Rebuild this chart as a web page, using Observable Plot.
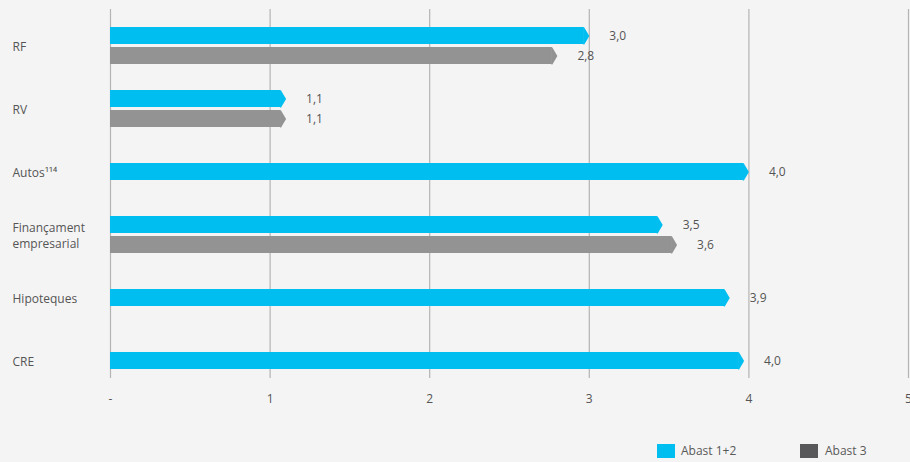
<!DOCTYPE html>
<html>
<head>
<meta charset="utf-8">
<script src="https://cdn.jsdelivr.net/npm/d3@7"></script>
<script src="https://cdn.jsdelivr.net/npm/@observablehq/plot@0.6"></script>
<style>
  html, body { margin: 0; padding: 0; background: #f4f4f4; overflow: hidden; }
  #wrap { position: relative; width: 910px; height: 462px; font-family: "Open Sans", sans-serif; }
  #legend { position: absolute; left: 0; top: 420px; width: 910px; height: 42px; font-size: 12px; color: #595959; }
  .sw { position: absolute; width: 18px; height: 14px; }
  .lt { position: absolute; line-height: 14px; }
</style>
</head>
<body>
<div id="wrap">
  <div id="chart"></div>
  <div id="legend"></div>
</div>
<script>
// ---- data ----
const categories = ["RF", "RV", "Autos", "Finançament empresarial", "Hipoteques", "CRE"];
const categoryLabels = ["RF", "RV", "Autos¹¹⁴", "Finançament\nempresarial", "Hipoteques", "CRE"];
const seriesNames = ["Abast 1+2", "Abast 3"];
const scope12 = [3.0, 1.1, 4.0, 3.46, 3.88, 3.97];
const scope3 = [2.8, 1.1, null, 3.55, null, null];
const labels12 = ["3,0", "1,1", "4,0", "3,5", "3,9", "4,0"];
const labels3 = ["2,8", "1,1", null, "3,6", null, null];
const xTicks = [0, 1, 2, 3, 4, 5];
const xTickLabels = ["-", "1", "2", "3", "4", "5"];

const barColors = {"Abast 1+2": "#00bef0", "Abast 3": "#939393"};
const legendColors = {"Abast 1+2": "#00bef0", "Abast 3": "#58585a"};

// rows: slot = top / bottom (paired) or single
const rows = [];
categories.forEach((c, i) => {
  if (scope3[i] != null) {
    rows.push({cat: c, series: seriesNames[0], value: scope12[i], label: labels12[i], slot: "top"});
    rows.push({cat: c, series: seriesNames[1], value: scope3[i], label: labels3[i], slot: "bottom"});
  } else {
    rows.push({cat: c, series: seriesNames[0], value: scope12[i], label: labels12[i], slot: "single"});
  }
});
const slotDy = {top: -10, single: 0, bottom: 10};

// arrow tip symbol
const tip = {
  draw(context) {
    context.moveTo(-6, -8.5);
    context.lineTo(-5, -8.5);
    context.lineTo(0, 0);
    context.lineTo(-5, 8.5);
    context.lineTo(-6, 8.5);
    context.closePath();
  }
};

const barMarks = [];
for (const slot of ["top", "single", "bottom"]) {
  const d = rows.filter(r => r.slot === slot);
  const dy = slotDy[slot];
  barMarks.push(
    Plot.barX(d, {x1: 0, x2: "value", y: "cat", fill: r => barColors[r.series], insetRight: 5, dy}),
    Plot.dot(d, {x: "value", y: "cat", symbol: tip, fill: r => barColors[r.series], stroke: "none", dy}),
    Plot.text(d, {x: "value", y: "cat", text: "label", textAnchor: "start", dx: 20, dy, fill: "#555555", fontSize: 12})
  );
}

const labelMap = new Map(categories.map((c, i) => [c, categoryLabels[i]]));
const tickMap = new Map(xTicks.map((t, i) => [t, xTickLabels[i]]));

const chart = Plot.plot({
  width: 910,
  height: 420,
  marginLeft: 110,
  marginRight: 2,
  marginTop: 9,
  marginBottom: 42,
  style: {background: "#f4f4f4", fontFamily: "Open Sans, sans-serif", fontSize: "12px", color: "#555555", overflow: "visible"},
  x: {domain: [0, 5], ticks: xTicks, axis: null, label: null},
  y: {type: "band", domain: categories, paddingInner: 0.733, paddingOuter: 0.267, align: 0.74, axis: null, label: null},
  marks: [
    Plot.ruleX(xTicks, {stroke: "#b4b4b4", strokeWidth: 1.2}),
    Plot.axisX({ticks: xTicks, tickSize: 0, tickPadding: 16, tickFormat: t => tickMap.get(t), fontSize: 12, color: "#555555", label: null}),
    Plot.text(categories, {y: d => d, text: d => labelMap.get(d), frameAnchor: "left", textAnchor: "start", dx: -98, lineHeight: 1.3, fill: "#555555", fontSize: 12}),
    ...barMarks
  ]
});
document.getElementById("chart").appendChild(chart);

// legend
const legend = document.getElementById("legend");
const legendPos = [{sx: 657, tx: 681}, {sx: 800, tx: 825}];
seriesNames.forEach((s, i) => {
  const sw = document.createElement("div");
  sw.className = "sw";
  sw.style.left = legendPos[i].sx + "px";
  sw.style.top = "24px";
  sw.style.background = legendColors[s];
  const t = document.createElement("div");
  t.className = "lt";
  t.style.left = legendPos[i].tx + "px";
  t.style.top = "24px";
  t.textContent = s;
  legend.appendChild(sw);
  legend.appendChild(t);
});
</script>
</body>
</html>
